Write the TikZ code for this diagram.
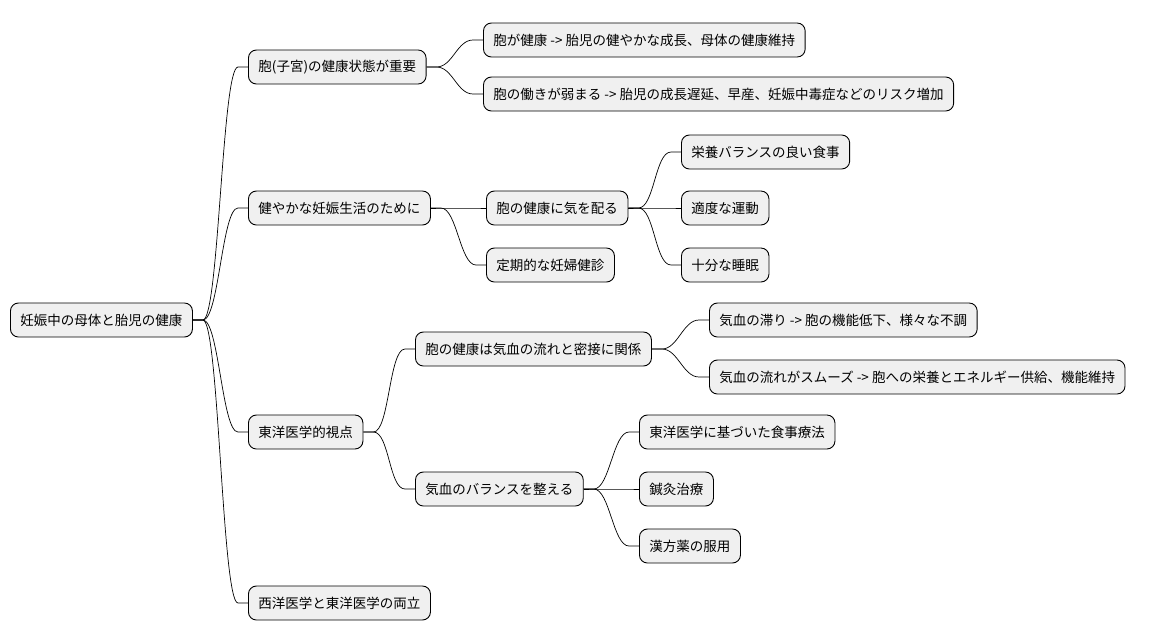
\documentclass[tikz,border=0pt]{standalone}
\usepackage{fontspec}
\setmainfont{Noto Sans CJK JP}
\begin{document}
\begin{tikzpicture}[x=1pt,y=-1pt,
  mm/.style={draw=black,line width=0.9pt,fill=black!6,rounded corners=8pt,anchor=west,
    minimum height=34pt,inner xsep=10pt,font=\fontsize{13.5}{16}\selectfont},
  lk/.style={line width=0.7pt}]
\useasboundingbox (0,0) rectangle (1158,640);
\node[mm] (r) at (10,320) {妊娠中の母体と胎児の健康};
\node[mm] (a) at (248,67) {胞(子宮)の健康状態が重要};
\node[mm] (b) at (248,208) {健やかな妊娠生活のために};
\node[mm] (c) at (248,432) {東洋医学的視点};
\node[mm] (d) at (248,603) {西洋医学と東洋医学の両立};
\node[mm] (a1) at (483,40) {胞が健康 -> 胎児の健やかな成長、母体の健康維持};
\node[mm] (a2) at (483,94) {胞の働きが弱まる -> 胎児の成長遅延、早産、妊娠中毒症などのリスク増加};
\node[mm] (b1) at (486,208) {胞の健康に気を配る};
\node[mm] (b2) at (486,265) {定期的な妊婦健診};
\node[mm] (b11) at (681,152) {栄養バランスの良い食事};
\node[mm] (b12) at (681,208) {適度な運動};
\node[mm] (b13) at (681,265) {十分な睡眠};
\node[mm] (c1) at (415,349) {胞の健康は気血の流れと密接に関係};
\node[mm] (c2) at (415,489) {気血のバランスを整える};
\node[mm] (c11) at (709,320) {気血の滞り -> 胞の機能低下、様々な不調};
\node[mm] (c12) at (709,377) {気血の流れがスムーズ -> 胞への栄養とエネルギー供給、機能維持};
\node[mm] (c21) at (639,432) {東洋医学に基づいた食事療法};
\node[mm] (c22) at (639,489) {鍼灸治療};
\node[mm] (c23) at (639,546) {漢方薬の服用};
\foreach \p/\c in {r/a,r/b,r/c,r/d,a/a1,a/a2,b/b1,b/b2,b1/b11,b1/b12,b1/b13,c/c1,c/c2,c1/c11,c1/c12,c2/c21,c2/c22,c2/c23}
  \draw[lk] (\p.east) -- ++(10,0) .. controls +(16,0) and +(-16,0) .. ([xshift=-10pt]\c.west) -- (\c.west);
\end{tikzpicture}
\end{document}
